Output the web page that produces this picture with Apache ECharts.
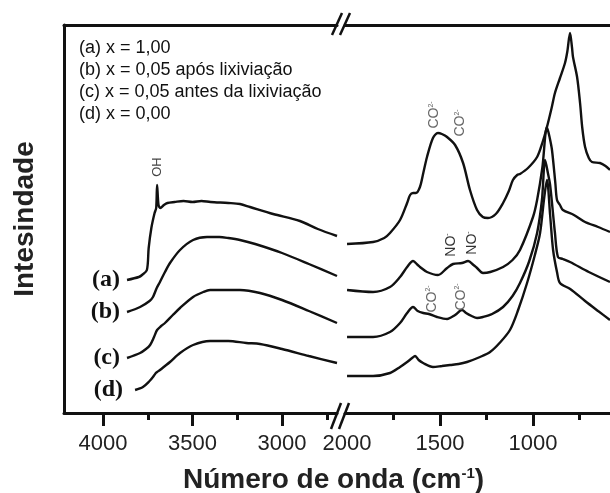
<!DOCTYPE html>
<html lang="pt">
<head>
    <meta charset="UTF-8">
    <title>Espectros de infravermelho</title>
    <script src="https://cdn.jsdelivr.net/npm/echarts@6.0.0/dist/echarts.min.js"></script>
    <style>
        html, body { margin: 0; padding: 0; background: #fff; }
        #chart { width: 610px; height: 493px; }
    </style>
</head>
<body>
<div id="chart"></div>
<script>
// curvas: [numero de onda, intensidade] (intensidade em unidades arbitrarias)
var aLeft = [[3866,133],[3800,136],[3782,138],[3755,143],[3745,165],[3730,185],[3712,200],[3703,205],[3698,228],[3690,208],[3680,205],[3660,208],[3640,210],[3600,211],[3550,212],[3500,211],[3450,212],[3400,211],[3300,210],[3235,209],[3179,206],[3050,199],[2900,192],[2800,184],[2693,177]];
var bLeft = [[3866,101],[3793,106],[3740,112],[3721,116],[3700,125],[3682,131],[3654,141],[3626,150],[3570,163],[3497,173],[3419,176],[3350,176],[3300,175],[3235,173],[3150,169],[3000,160],[2850,149],[2693,137]];
var cLeft = [[3866,55],[3793,60],[3760,64],[3737,68],[3715,76],[3698,83],[3675,87],[3654,90],[3610,98],[3570,105],[3497,116],[3440,121],[3402,123],[3300,123],[3235,123],[3123,120],[3000,113],[2850,102],[2693,90]];
var dLeft = [[3821,23],[3777,26],[3740,32],[3721,36],[3705,40],[3698,41],[3682,43],[3654,47],[3626,51],[3570,60],[3497,68],[3402,72],[3300,72],[3200,70],[3123,69],[3000,64],[2850,57],[2693,50]];

var aRight = [[2000,169],[1860,171],[1800,175],[1769,180],[1715,193],[1677,210],[1661,218],[1645,220],[1630,220],[1608,226],[1590,240],[1570,256],[1538,275],[1511,280],[1490,279],[1462,276],[1419,268],[1376,250],[1339,223],[1301,203],[1270,196],[1242,195],[1200,199],[1161,210],[1130,222],[1108,233],[1085,238],[1070,239],[1027,245],[978,256],[950,270],[925,286],[900,305],[882,320],[855,335],[828,350],[815,362],[801,380],[790,365],[785,356],[763,336],[747,310],[735,285],[720,266],[700,255],[683,251],[640,250],[610,247],[586,243]];
var bRight = [[2000,123],[1860,121],[1769,126],[1715,136],[1677,146],[1645,152],[1620,148],[1608,146],[1570,141],[1511,138],[1462,145],[1430,149],[1382,150],[1349,152],[1320,148],[1301,145],[1269,140],[1230,141],[1161,146],[1110,153],[1070,163],[1000,196],[978,213],[950,245],[925,286],[910,275],[898,263],[880,230],[871,213],[855,208],[839,203],[780,198],[720,191],[650,186],[586,181]];
var cRight = [[2000,76],[1860,76],[1769,81],[1715,90],[1677,100],[1645,106],[1620,102],[1590,100],[1560,99],[1516,96],[1462,94],[1419,98],[1382,103],[1360,100],[1330,97],[1301,95],[1269,96],[1220,99],[1161,106],[1110,117],[1070,130],[1020,152],[978,180],[952,213],[935,253],[920,240],[908,228],[882,180],[866,156],[840,154],[801,151],[700,141],[586,131]];
var dRight = [[2000,37],[1860,37],[1769,40],[1715,46],[1677,51],[1650,55],[1634,57],[1615,53],[1591,50],[1538,46],[1490,47],[1446,48],[1400,49],[1355,51],[1285,56],[1231,61],[1180,70],[1124,83],[1080,103],[1032,130],[990,158],[962,180],[940,215],[925,233],[908,198],[892,163],[870,140],[855,130],[800,124],[720,112],[650,102],[586,93]];

// eixos
var leftTicks = [4000, 3500, 3000];
var leftMinor = [3750, 3250, 2750];
var rightTicks = [1500, 1000];
var rightLabels = [2000, 1500, 1000];
var rightMinor = [1750, 1250, 750];

var legendLines = [
    '(a) x = 1,00',
    '(b) x = 0,05 após lixiviação',
    '(c) x = 0,05 antes da lixiviação',
    '(d) x = 0,00'
];
var curveNames = ['(a)', '(b)', '(c)', '(d)'];

// anotacoes das bandas: [numero de onda, intensidade]
var ohMark = [3698, 246, 'OH'];
var co3MarksA = [[1532, 298], [1392, 290]];
var no3MarksB = [[1441, 168], [1328, 170]];
var co3MarksC = [[1543, 114], [1387, 116]];

var ink = '#111';
var grey = '#666';

function bandLabel(p, txt, color) {
    return {
        coord: [p[0], p[1]],
        label: {
            show: true, position: 'inside', rotate: 90,
            formatter: '{m|' + txt + '}{s|' + (txt === 'NO' ? '-' : '2-') + '}',
            rich: {
                m: { fontSize: 14, fontFamily: 'Liberation Sans', color: color },
                s: { fontSize: 7, fontFamily: 'Liberation Sans', color: color, verticalAlign: 'top' }
            }
        }
    };
}
function curveLabel(p, txt, dist) {
    return {
        coord: p,
        label: {
            show: true, position: 'left', distance: dist, formatter: txt,
            fontFamily: 'Liberation Serif', fontSize: 24, fontWeight: 'bold', color: ink
        }
    };
}
function marks(list) {
    return { symbol: 'circle', symbolSize: 0, itemStyle: { color: 'transparent' }, data: list, silent: true };
}

var lineStyle = { color: ink, width: 2.4 };
function mkSeries(data, xi, yi, mp) {
    var s = {
        type: 'line', data: data, xAxisIndex: xi, yAxisIndex: yi,
        showSymbol: false, smooth: 0.3, lineStyle: lineStyle, itemStyle: { color: ink }
    };
    if (mp) s.markPoint = marks(mp);
    return s;
}

var chart = echarts.init(document.getElementById('chart'));

var axisLineStyle = { color: ink, width: 3 };
var tickLabel = {
    fontSize: 22, fontFamily: 'Liberation Sans', color: '#222', margin: 20,
    formatter: function (v) { return String(v); }
};

var option = {
    animation: false,
    title: [
        {
            text: legendLines.join('\n'), left: 74, top: 32,
            textStyle: { fontSize: 18, fontWeight: 'normal', fontFamily: 'Liberation Sans', color: ink, lineHeight: 22 }
        },
        {
            text: '{t|Número de onda (cm}{s|-1}{t|)}', left: 178, top: 461,
            textStyle: {
                rich: {
                    t: { fontSize: 28, fontWeight: 'bold', fontFamily: 'Liberation Sans', color: '#222' },
                    s: { fontSize: 15, fontWeight: 'bold', fontFamily: 'Liberation Sans', color: '#222', verticalAlign: 'top', padding: [0, 0, 10, 0] }
                }
            }
        }
    ],
    grid: [
        { left: 64, top: 25, width: 273, height: 388 },
        { left: 345, top: 25, right: 0, height: 388 }
    ],
    xAxis: [
        {   // esquerda, principal
            gridIndex: 0, type: 'value', position: 'bottom', min: 2693, max: 4218, inverse: true,
            axisLine: { lineStyle: axisLineStyle },
            axisTick: { customValues: leftTicks, length: 13, lineStyle: { color: ink, width: 3 } },
            axisLabel: Object.assign({ customValues: leftTicks }, tickLabel),
            splitLine: { show: false }
        },
        {   // esquerda, ticks menores
            gridIndex: 0, type: 'value', position: 'bottom', min: 2693, max: 4218, inverse: true,
            axisLine: { show: false },
            axisTick: { customValues: leftMinor, length: 7, lineStyle: { color: ink, width: 3 } },
            axisLabel: { show: false }, splitLine: { show: false }
        },
        {   // esquerda, borda superior
            gridIndex: 0, type: 'value', position: 'top', min: 2693, max: 4218, inverse: true,
            axisLine: { lineStyle: axisLineStyle },
            axisTick: { show: false }, axisLabel: { show: false }, splitLine: { show: false }
        },
        {   // direita, principal
            gridIndex: 1, type: 'value', position: 'bottom', min: 586, max: 2011, inverse: true,
            axisLine: { lineStyle: axisLineStyle },
            axisTick: { customValues: rightTicks, length: 13, lineStyle: { color: ink, width: 3 } },
            axisLabel: Object.assign({ customValues: rightLabels }, tickLabel),
            splitLine: { show: false }
        },
        {   // direita, ticks menores
            gridIndex: 1, type: 'value', position: 'bottom', min: 586, max: 2011, inverse: true,
            axisLine: { show: false },
            axisTick: { customValues: rightMinor, length: 7, lineStyle: { color: ink, width: 3 } },
            axisLabel: { show: false }, splitLine: { show: false }
        },
        {   // direita, borda superior
            gridIndex: 1, type: 'value', position: 'top', min: 586, max: 2011, inverse: true,
            axisLine: { lineStyle: axisLineStyle },
            axisTick: { show: false }, axisLabel: { show: false }, splitLine: { show: false }
        }
    ],
    yAxis: [
        {
            gridIndex: 0, type: 'value', min: 0, max: 388,
            name: 'Intesindade', nameLocation: 'middle', nameGap: 25, nameRotate: 90,
            nameTextStyle: { fontSize: 28, fontWeight: 'bold', fontFamily: 'Liberation Sans', color: '#222' },
            axisLine: { show: true, lineStyle: axisLineStyle },
            axisTick: { show: false }, axisLabel: { show: false }, splitLine: { show: false }
        },
        {
            gridIndex: 1, type: 'value', min: 0, max: 388,
            axisLine: { show: false }, axisTick: { show: false }, axisLabel: { show: false }, splitLine: { show: false }
        }
    ],
    graphic: [
        // marcas de quebra do eixo (//)
        { type: 'line', shape: { x1: 332, y1: 35, x2: 342, y2: 13 }, style: { stroke: ink, lineWidth: 2.5 } },
        { type: 'line', shape: { x1: 340, y1: 35, x2: 350, y2: 13 }, style: { stroke: ink, lineWidth: 2.5 } },
        { type: 'line', shape: { x1: 331, y1: 429, x2: 341, y2: 403 }, style: { stroke: ink, lineWidth: 2.5 } },
        { type: 'line', shape: { x1: 339, y1: 429, x2: 349, y2: 403 }, style: { stroke: ink, lineWidth: 2.5 } }
    ],
    series: [
        mkSeries(aLeft, 0, 0, [
            curveLabel(aLeft[0], curveNames[0], 7),
            {
                coord: [ohMark[0], ohMark[1]],
                label: { show: true, position: 'inside', rotate: 90, formatter: ohMark[2],
                    fontSize: 13, fontFamily: 'Liberation Sans', color: '#444' }
            }
        ]),
        mkSeries(bLeft, 0, 0, [curveLabel(bLeft[0], curveNames[1], 7)]),
        mkSeries(cLeft, 0, 0, [curveLabel(cLeft[0], curveNames[2], 7)]),
        mkSeries(dLeft, 0, 0, [curveLabel(dLeft[0], curveNames[3], 12)]),
        mkSeries(aRight, 3, 1, co3MarksA.map(function (p) { return bandLabel(p, 'CO', grey); })),
        mkSeries(bRight, 3, 1, no3MarksB.map(function (p) { return bandLabel(p, 'NO', '#333'); })),
        mkSeries(cRight, 3, 1, co3MarksC.map(function (p) { return bandLabel(p, 'CO', grey); })),
        mkSeries(dRight, 3, 1)
    ]
};

chart.setOption(option);
</script>
</body>
</html>
